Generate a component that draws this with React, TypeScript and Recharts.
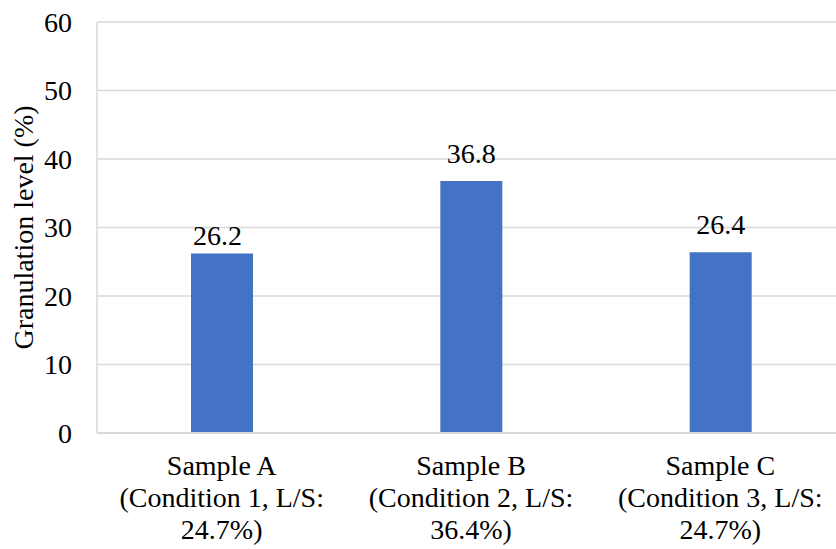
import React from 'react';
import { BarChart, Bar, XAxis, YAxis, CartesianGrid, LabelList, Label } from 'recharts';

// Samples and their run conditions (liquid/solid ratio)
const categories = ['Sample A', 'Sample B', 'Sample C'];
const conditionLines = ['(Condition 1, L/S:', '(Condition 2, L/S:', '(Condition 3, L/S:'];
const ratioLines = ['24.7%)', '36.4%)', '24.7%)'];
const granulation = [26.2, 36.8, 26.4];
const yTicks = [0, 10, 20, 30, 40, 50, 60];

const data = categories.map((name, i) => ({
  name,
  condition: conditionLines[i],
  ratio: ratioLines[i],
  value: granulation[i],
}));

const FONT = "'Liberation Serif', 'Times New Roman', 'DejaVu Serif', serif";
const FONT_SIZE = 28;
const GRID = '#d9d9d9';
const BAR = '#4472C4';
const textStyle: React.CSSProperties = { fontFamily: FONT, fontSize: FONT_SIZE, fill: '#000' };

// The first data label sits a little lower and to the left of its bar
const labelShift: Record<number, { dx: number; dy: number }> = {
  0: { dx: -4.5, dy: 9 },
};

const YTick = (props: any) => {
  const { x, y, payload } = props;
  return (
    <text x={x} y={y} dy={9.5} textAnchor="end" style={textStyle}>
      {payload.value}
    </text>
  );
};

const XTick = (props: any) => {
  const { x, y, index } = props;
  const row = data[index];
  if (!row) return null;
  const lines = [row.name, row.condition, row.ratio];
  return (
    <text x={x} y={y} textAnchor="middle" style={textStyle}>
      {lines.map((l, i) => (
        <tspan key={i} x={x} y={y + 34 + i * 32}>
          {l}
        </tspan>
      ))}
    </text>
  );
};

const ValueLabel = (props: any) => {
  const { x, y, width, value, index } = props;
  const s = labelShift[index] || { dx: 0, dy: 0 };
  return (
    <text x={x + width / 2 + s.dx} y={y - 18 + s.dy} textAnchor="middle" style={textStyle}>
      {value}
    </text>
  );
};

const YTitle = (props: any) => {
  const { viewBox } = props;
  const cy = viewBox.y + viewBox.height / 2;
  return (
    <text transform={`translate(32.5, ${cy}) rotate(-90)`} textAnchor="middle" style={textStyle}>
      Granulation level (%)
    </text>
  );
};

export default function App() {
  return (
    <div
      style={{
        position: 'fixed',
        left: 0,
        top: 0,
        width: 836,
        height: 549,
        overflow: 'hidden',
        background: '#fff',
        fontFamily: FONT,
      }}
    >
      <BarChart
        width={850}
        height={549}
        data={data}
        margin={{ top: 22, right: 5, bottom: 0, left: 0 }}
        style={{ fontFamily: FONT }}
      >
        <CartesianGrid vertical={false} stroke={GRID} strokeWidth={1.5} />
        <XAxis
          dataKey="name"
          height={116}
          tick={<XTick />}
          tickLine={false}
          axisLine={{ stroke: GRID, strokeWidth: 2 }}
          interval={0}
        />
        <YAxis
          width={97}
          domain={[0, 60]}
          ticks={yTicks}
          tickLine={false}
          tickMargin={19}
          tick={<YTick />}
          axisLine={{ stroke: GRID, strokeWidth: 1.5 }}
        >
          <Label content={<YTitle />} />
        </YAxis>
        <Bar dataKey="value" fill={BAR} barSize={62} isAnimationActive={false}>
          <LabelList dataKey="value" content={<ValueLabel />} />
        </Bar>
      </BarChart>
    </div>
  );
}
